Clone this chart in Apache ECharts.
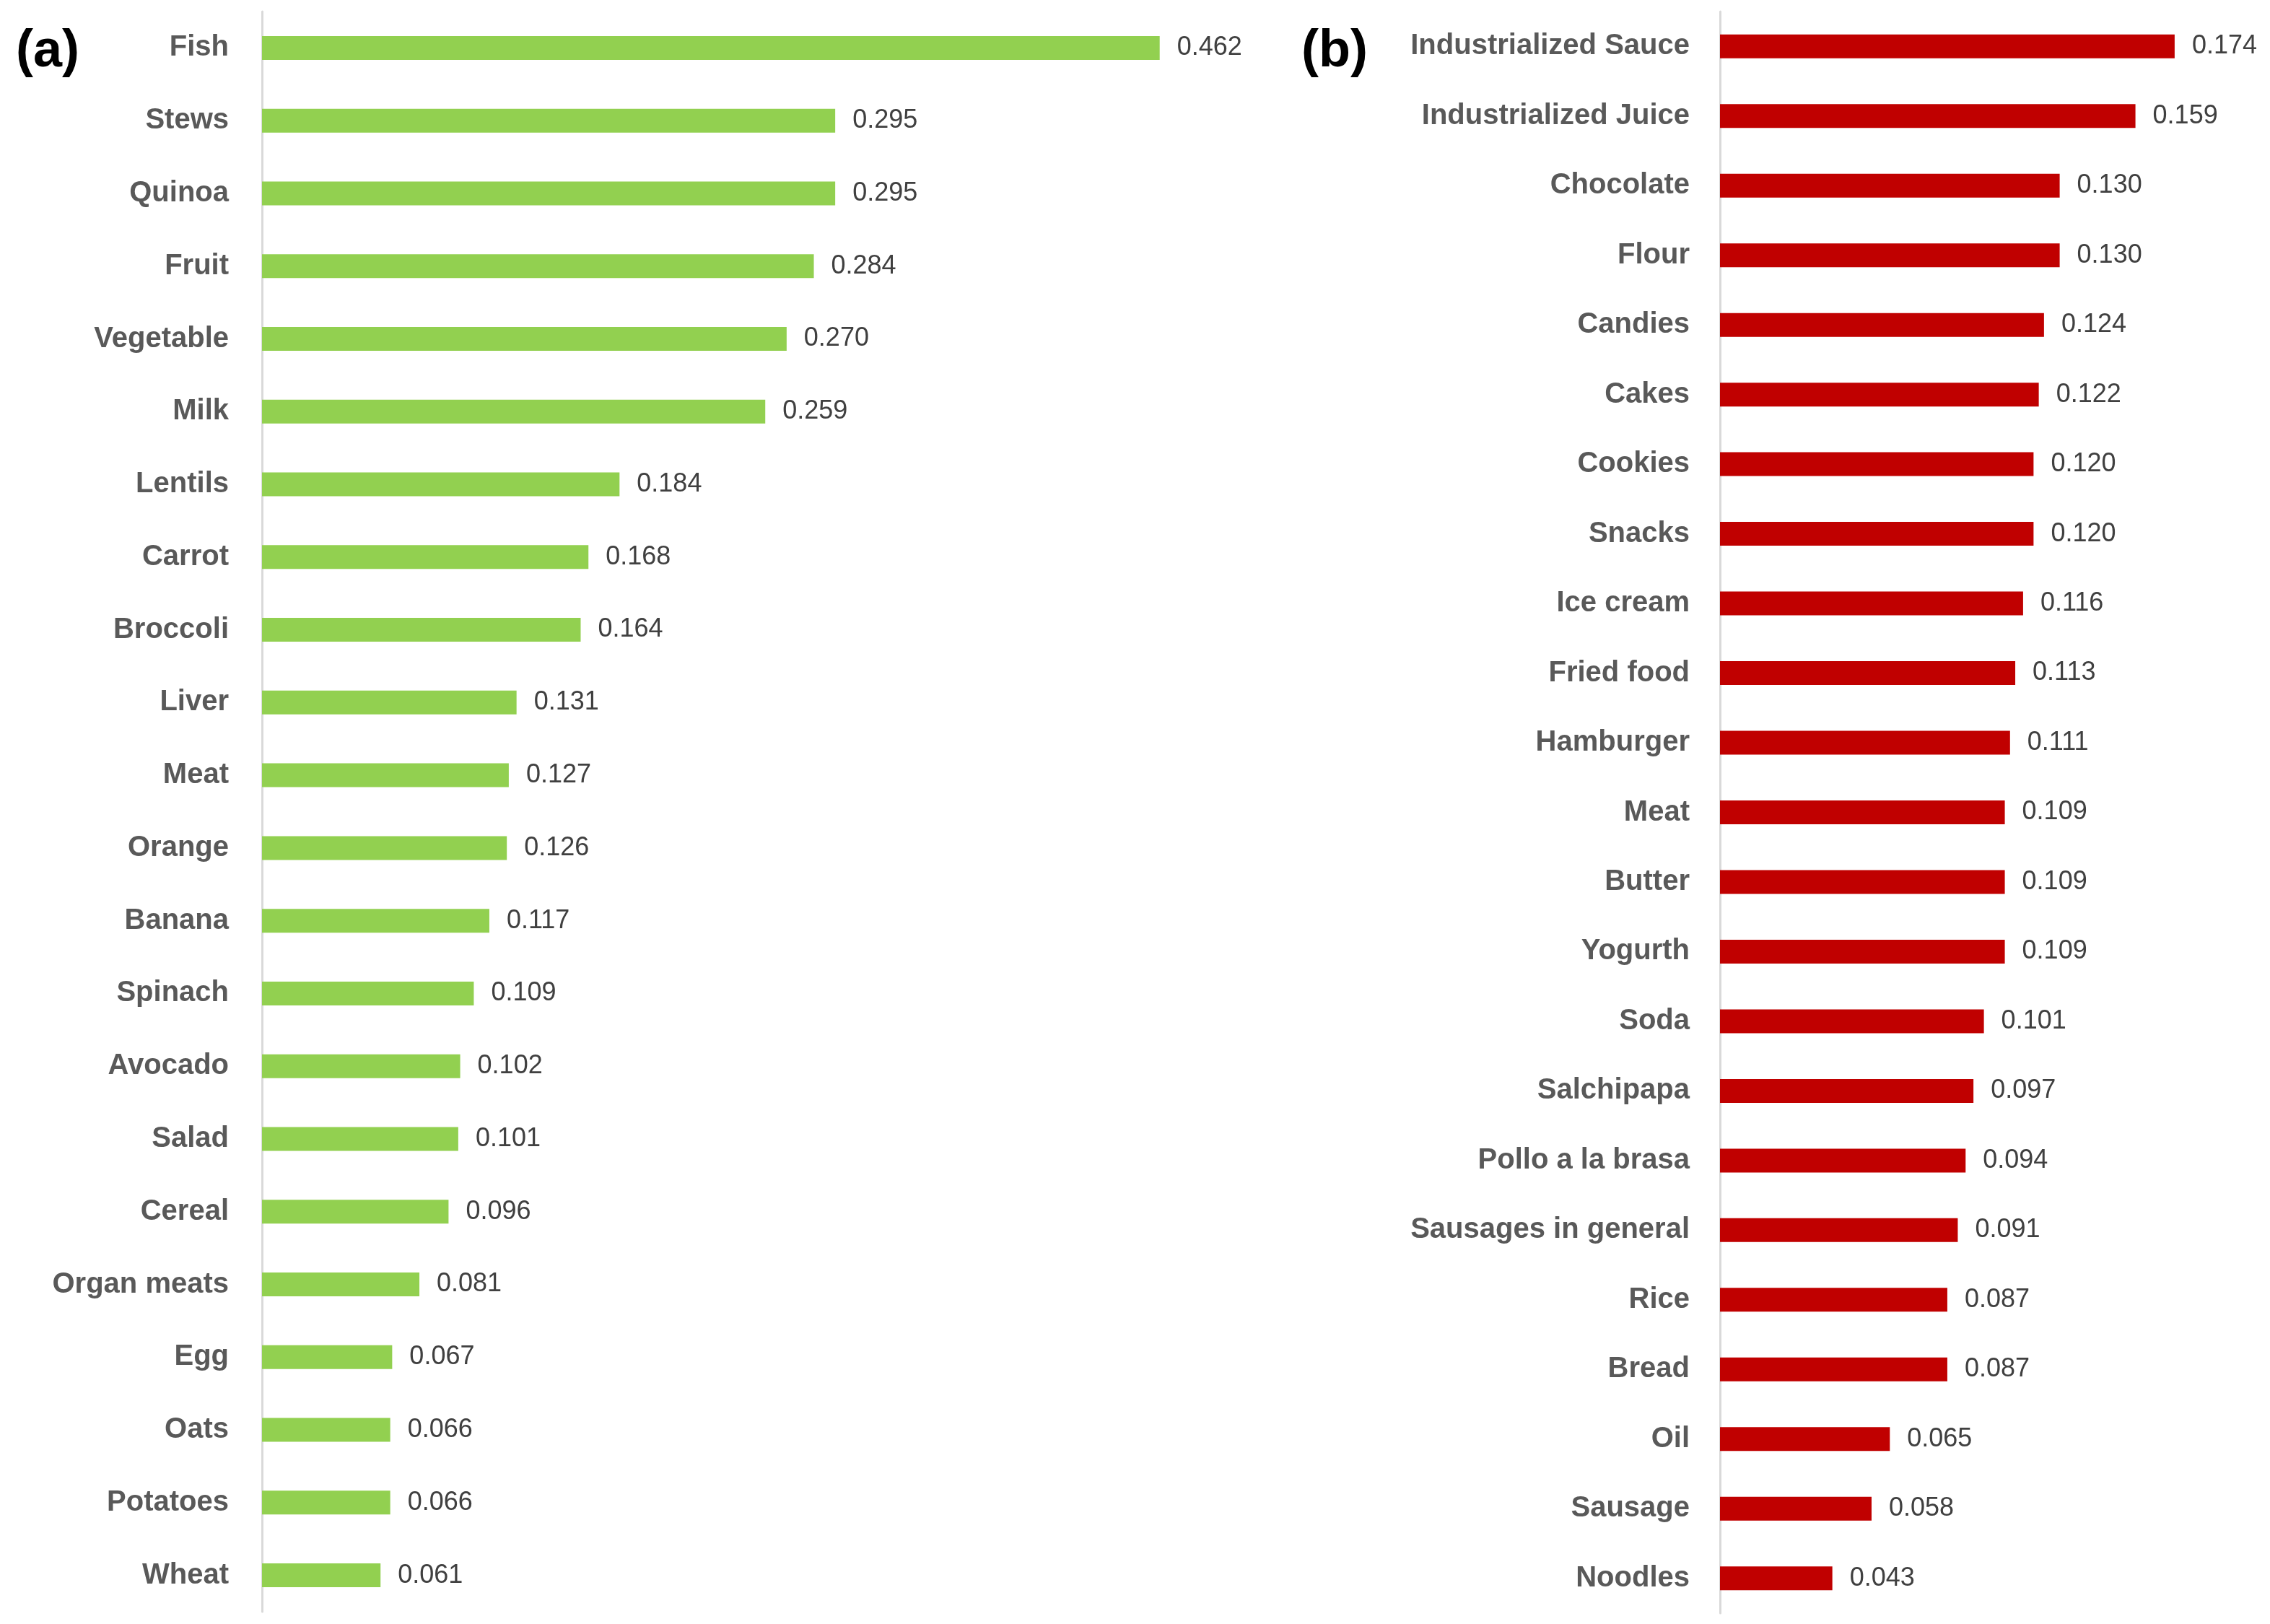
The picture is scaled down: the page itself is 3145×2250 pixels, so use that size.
<!DOCTYPE html>
<html>
<head>
<meta charset="utf-8">
<script src="https://cdn.jsdelivr.net/npm/echarts@6/dist/echarts.min.js"></script>
<style>
html,body{margin:0;padding:0;background:#fff;}
#chart{width:3145px;height:2250px;}
</style>
</head>
<body>
<div id="chart"></div>
<script>
const healthyCategories = ["Fish","Stews","Quinoa","Fruit","Vegetable","Milk","Lentils","Carrot","Broccoli","Liver","Meat","Orange","Banana","Spinach","Avocado","Salad","Cereal","Organ meats","Egg","Oats","Potatoes","Wheat"];
const healthyValues = [0.462,0.295,0.295,0.284,0.270,0.259,0.184,0.168,0.164,0.131,0.127,0.126,0.117,0.109,0.102,0.101,0.096,0.081,0.067,0.066,0.066,0.061];
const unhealthyCategories = ["Industrialized Sauce","Industrialized Juice","Chocolate","Flour","Candies","Cakes","Cookies","Snacks","Ice cream","Fried food","Hamburger","Meat","Butter","Yogurth","Soda","Salchipapa","Pollo a la brasa","Sausages in general","Rice","Bread","Oil","Sausage","Noodles"];
const unhealthyValues = [0.174,0.159,0.130,0.130,0.124,0.122,0.120,0.120,0.116,0.113,0.111,0.109,0.109,0.109,0.101,0.097,0.094,0.091,0.087,0.087,0.065,0.058,0.043];
const panelLabels = ["(a)","(b)"];

const FONT = '"Liberation Sans", Arial, sans-serif';
const chart = echarts.init(document.getElementById('chart'), null, {renderer:'canvas'});

function catAxis(gridIndex, data, margin){
  return {
    type:'category', gridIndex, data, inverse:true,
    axisLine:{show:true, lineStyle:{color:'#D9D9D9', width:3}},
    axisTick:{show:false},
    splitLine:{show:false},
    axisLabel:{margin, fontFamily:FONT, fontSize:40, fontWeight:'bold', color:'#595959', interval:0}
  };
}
function valAxis(gridIndex, max){
  return {type:'value', gridIndex, min:0, max, show:false, splitLine:{show:false}};
}
function barSeries(idx, values, color){
  return {
    type:'bar', xAxisIndex:idx, yAxisIndex:idx, data:values, barWidth:33,
    itemStyle:{color},
    label:{show:true, position:'right', distance:24, fontFamily:FONT, fontSize:36, color:'#404040',
      formatter:p=>p.value.toFixed(3)},
    silent:true, animation:false
  };
}

chart.setOption({
  animation:false,
  backgroundColor:'#ffffff',
  grid:[
    {left:363, top:16, width:1346, height:2217},
    {left:2383, top:16, width:724, height:2219}
  ],
  xAxis:[valAxis(0,0.5), valAxis(1,0.2)],
  yAxis:[catAxis(0, healthyCategories, 46), catAxis(1, unhealthyCategories, 42)],
  series:[barSeries(0, healthyValues, '#92D050'), barSeries(1, unhealthyValues, '#C00000')],
  graphic:[
    {type:'text', left:22, top:36, style:{text:panelLabels[0], font:'bold 72px '+FONT, fill:'#000'}},
    {type:'text', left:1803, top:36, style:{text:panelLabels[1], font:'bold 72px '+FONT, fill:'#000'}}
  ]
});
</script>
</body>
</html>
